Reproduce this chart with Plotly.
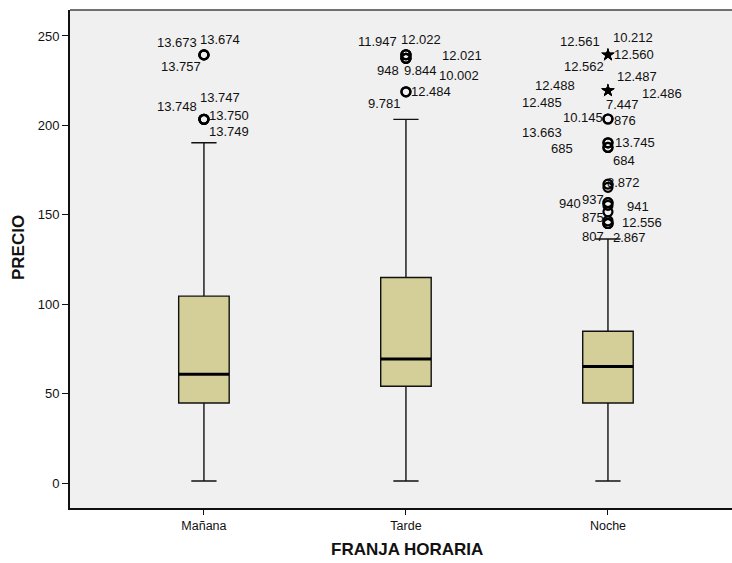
import plotly.graph_objects as go

# ---------------- data ----------------
categories = ["Mañana", "Tarde", "Noche"]
q1_vals = [44.9, 54.2, 44.9]
median_vals = [61.0, 69.4, 65.3]
q3_vals = [104.6, 115.0, 85.0]
lower_fence = [1.3, 1.3, 1.3]
upper_fence = [190.3, 203.4, 136.5]

# outliers (circles): value, case label
manana_out_vals = [239.4, 239.4, 239.4, 203.4, 203.4, 203.4, 203.4]
manana_out_ids = ["13.673", "13.674", "13.757", "13.748", "13.747", "13.750", "13.749"]

tarde_out_vals = [239.5, 239.5, 239.5, 237.5, 237.5, 237.5, 218.8, 218.8]
tarde_out_ids = ["11.947", "12.022", "12.021", "948", "9.844", "10.002", "12.484", "9.781"]

noche_out_vals = [203.6, 203.6, 190.3, 190.3, 187.7, 187.7, 167.2, 165.4,
                  156.8, 156.8, 155.3, 151.7, 146.7, 145.2, 145.2, 145.2]
noche_out_ids = ["10.145", "876", "13.663", "13.745", "685", "684", "8.872", "",
                 "937", "940", "941", "", "875", "12.556", "807", "2.867"]

# extremes (stars)
noche_ext_vals = [239.4, 239.4, 239.4, 239.4, 219.4, 219.4, 219.4, 219.4, 219.4]
noche_ext_ids = ["12.561", "10.212", "12.560", "12.562",
                 "12.487", "12.488", "12.486", "12.485", "7.447"]

y_ticks = [0, 50, 100, 150, 200, 250]

# ---------------- label offsets (pixels: dx right, dy down) ----------------
manana_offsets = [(-27, -12), (16, -15), (-23, 12), (-27, -13), (16, -22), (25, -4), (25, 12)]
tarde_offsets = [(-28, -13), (15, -15), (56, 1), (-18, 12), (15, 12), (53, 17), (25, 0), (-21, 12)]
noche_out_offsets = [(-25, -1), (17, 2), (-66, -10), (27, 0), (-46, 1), (16, 13), (16, -2), (0, 0),
                     (-15, -3), (-38, 1), (30, 1), (0, 0), (-15, -3), (34, -1), (-15, 13), (22, 14)]
noche_ext_offsets = [(-28, -13), (25, -17), (26, 0), (-24, 12),
                     (29, -14), (-53, -5), (54, 3), (-66, 12), (15, 14)]

FONT = "Liberation Sans, Arial, sans-serif"
BOX_W = 0.25

fig = go.Figure()

fig.add_trace(go.Box(
    x=categories, q1=q1_vals, median=median_vals, q3=q3_vals,
    lowerfence=lower_fence, upperfence=upper_fence,
    boxpoints=False, width=BOX_W, whiskerwidth=0.5,
    fillcolor="#d4cf98", line=dict(color="#111111", width=1.4),
    showlegend=False, hoverinfo="skip",
))

def add_outliers(cat, vals, symbol, size, lw):
    fig.add_trace(go.Scatter(
        x=[cat] * len(vals), y=vals, mode="markers",
        marker=dict(symbol=symbol, size=size, color="black",
                    line=dict(color="black", width=lw)),
        showlegend=False, hoverinfo="skip",
    ))

add_outliers("Mañana", manana_out_vals, "circle-open", 9, 2.2)
add_outliers("Tarde", tarde_out_vals, "circle-open", 9, 2.2)
add_outliers("Noche", noche_out_vals, "circle-open", 9, 2.2)
add_outliers("Noche", noche_ext_vals, "star", 10, 0)

def add_labels(cat, vals, ids, offsets):
    for v, t, (dx, dy) in zip(vals, ids, offsets):
        if not t:
            continue
        fig.add_annotation(x=cat, y=v, text=t, showarrow=False,
                           xshift=dx, yshift=-dy, xanchor="center", yanchor="middle",
                           font=dict(family=FONT, size=13, color="#111111"))

add_labels("Mañana", manana_out_vals, manana_out_ids, manana_offsets)
add_labels("Tarde", tarde_out_vals, tarde_out_ids, tarde_offsets)
add_labels("Noche", noche_out_vals, noche_out_ids, noche_out_offsets)
add_labels("Noche", noche_ext_vals, noche_ext_ids, noche_ext_offsets)

# thick median lines
for i, m in enumerate(median_vals):
    fig.add_shape(type="line", xref="x", yref="y",
                  x0=i - BOX_W / 2, x1=i + BOX_W / 2, y0=m, y1=m,
                  line=dict(color="black", width=3))

# top frame line
fig.add_shape(type="line", xref="paper", yref="paper", x0=0, x1=1, y0=1, y1=1,
              line=dict(color="#444444", width=1.5))

# axis titles
fig.add_annotation(xref="paper", yref="paper", x=0.509, y=-0.0843,
                   text="<b>FRANJA HORARIA</b>", showarrow=False,
                   xanchor="center", yanchor="middle",
                   font=dict(family=FONT, size=17, color="#111111"))
fig.add_annotation(xref="paper", yref="paper", x=-0.0785, y=0.522,
                   text="<b>PRECIO</b>", showarrow=False, textangle=-90,
                   xanchor="center", yanchor="middle",
                   font=dict(family=FONT, size=17, color="#111111"))

fig.update_layout(
    width=732, height=563,
    margin=dict(l=70, r=0, t=10, b=55, autoexpand=False),
    paper_bgcolor="white", plot_bgcolor="#f0f0f0",
    font=dict(family=FONT, size=13, color="#111111"),
    xaxis=dict(
        type="category", categoryorder="array", categoryarray=categories,
        range=[-0.663, 2.614], automargin=False,
        showgrid=False, zeroline=False,
        showline=True, linecolor="#111111", linewidth=2,
        ticks="outside", ticklen=5, tickcolor="#111111",
        tickfont=dict(size=12.5),
    ),
    yaxis=dict(
        range=[-13.8, 264.5], automargin=False,
        tickvals=y_ticks,
        showgrid=False, zeroline=False,
        showline=True, linecolor="#111111", linewidth=2,
        ticks="outside", ticklen=6, tickcolor="#111111",
        tickfont=dict(size=13),
    ),
)

fig.write_html(
    "out.html",
    config={"displayModeBar": False},
    post_script="document.body.style.margin='0';document.body.style.overflow='hidden';",
)
